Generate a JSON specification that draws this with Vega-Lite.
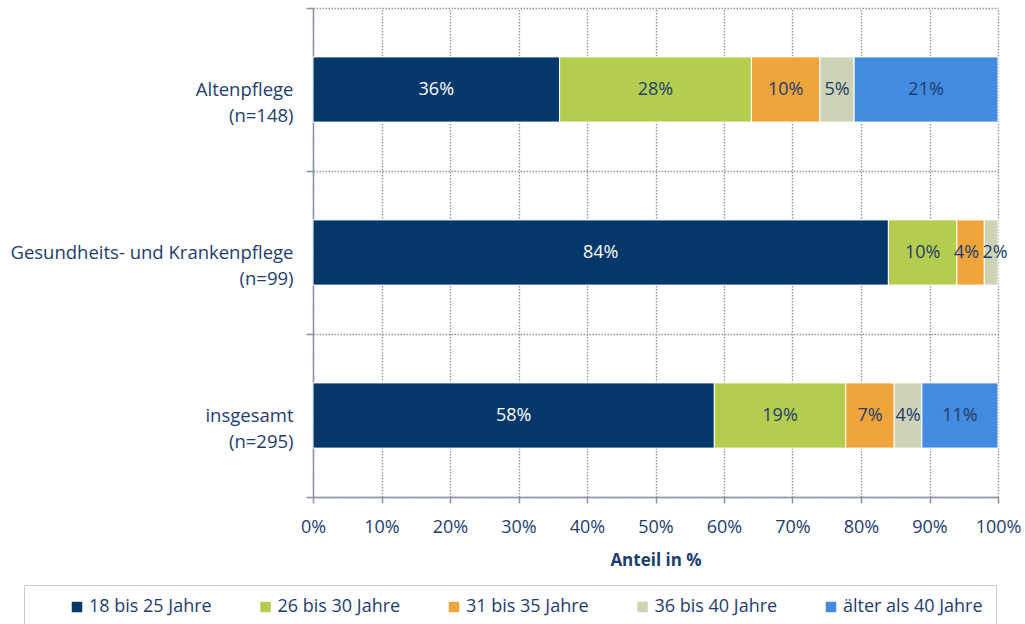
{
  "$schema": "https://vega.github.io/schema/vega-lite/v6.json",
  "width": 685,
  "height": 489,
  "autosize": {"type": "none"},
  "padding": {"left": 313, "top": 8, "right": 27, "bottom": 127},
  "background": "white",
  "config": {
    "font": "Open Sans",
    "view": {"stroke": null}
  },
  "data": {
    "values": [
      {"category": "Altenpflege (n=148)", "group": "18 bis 25 Jahre", "order": 1, "value": 0.36},
      {"category": "Altenpflege (n=148)", "group": "26 bis 30 Jahre", "order": 2, "value": 0.28},
      {"category": "Altenpflege (n=148)", "group": "31 bis 35 Jahre", "order": 3, "value": 0.10},
      {"category": "Altenpflege (n=148)", "group": "36 bis 40 Jahre", "order": 4, "value": 0.05},
      {"category": "Altenpflege (n=148)", "group": "älter als 40 Jahre", "order": 5, "value": 0.21},
      {"category": "Gesundheits- und Krankenpflege (n=99)", "group": "18 bis 25 Jahre", "order": 1, "value": 0.84},
      {"category": "Gesundheits- und Krankenpflege (n=99)", "group": "26 bis 30 Jahre", "order": 2, "value": 0.10},
      {"category": "Gesundheits- und Krankenpflege (n=99)", "group": "31 bis 35 Jahre", "order": 3, "value": 0.04},
      {"category": "Gesundheits- und Krankenpflege (n=99)", "group": "36 bis 40 Jahre", "order": 4, "value": 0.02},
      {"category": "insgesamt (n=295)", "group": "18 bis 25 Jahre", "order": 1, "value": 0.58},
      {"category": "insgesamt (n=295)", "group": "26 bis 30 Jahre", "order": 2, "value": 0.19},
      {"category": "insgesamt (n=295)", "group": "31 bis 35 Jahre", "order": 3, "value": 0.07},
      {"category": "insgesamt (n=295)", "group": "36 bis 40 Jahre", "order": 4, "value": 0.04},
      {"category": "insgesamt (n=295)", "group": "älter als 40 Jahre", "order": 5, "value": 0.11}
    ]
  },
  "transform": [
    {
      "stack": "value",
      "groupby": ["category"],
      "sort": [{"field": "order", "order": "ascending"}],
      "offset": "normalize",
      "as": ["x0", "x1"]
    },
    {"calculate": "(datum.x0 + datum.x1) / 2", "as": "xmid"}
  ],
  "encoding": {
    "y": {
      "field": "category",
      "type": "nominal",
      "sort": ["Altenpflege (n=148)", "Gesundheits- und Krankenpflege (n=99)", "insgesamt (n=295)"],
      "scale": {"paddingInner": 0, "paddingOuter": 0},
      "axis": {
        "title": null,
        "domain": true,
        "domainColor": "#8c93a3",
        "domainWidth": 1.5,
        "ticks": true,
        "tickBand": "extent",
        "tickSize": 7,
        "tickColor": "#8c93a3",
        "tickWidth": 1.5,
        "grid": true,
        "gridColor": "#8c93a3",
        "gridDash": [1.5, 1.5],
        "gridWidth": 1.3,
        "labelFontSize": 18.5,
        "labelColor": "#1f3d6c",
        "labelPadding": 13,
        "labelLineHeight": 26,
        "labelLimit": 400,
        "labelExpr": "[slice(datum.label, 0, indexof(datum.label, ' (')), slice(datum.label, indexof(datum.label, ' (') + 1)]"
      }
    }
  },
  "layer": [
    {
      "mark": {"type": "bar", "stroke": "white", "strokeWidth": 1, "height": {"band": 0.4}},
      "encoding": {
        "x": {
          "field": "x0",
          "type": "quantitative",
          "scale": {"domain": [0, 1], "nice": false},
          "axis": {
            "values": [0, 0.1, 0.2, 0.3, 0.4, 0.5, 0.6, 0.7, 0.8, 0.9, 1],
            "format": ".0%",
            "title": "Anteil in %",
            "titleFontSize": 17,
            "titleFontWeight": "bold",
            "titleColor": "#1f3d6c",
            "titlePadding": 16,
            "domain": true,
            "domainColor": "#8c93a3",
            "domainWidth": 1.5,
            "ticks": true,
            "tickSize": 6,
            "tickColor": "#8c93a3",
            "tickWidth": 1.5,
            "grid": true,
            "gridColor": "#8c93a3",
            "gridDash": [1.5, 1.5],
            "gridWidth": 1.3,
            "labelFontSize": 18,
            "labelColor": "#1f3d6c",
            "labelPadding": 15,
            "labelFlush": false
          }
        },
        "x2": {"field": "x1"},
        "color": {
          "field": "group",
          "type": "nominal",
          "scale": {
            "domain": ["18 bis 25 Jahre", "26 bis 30 Jahre", "31 bis 35 Jahre", "36 bis 40 Jahre", "älter als 40 Jahre"],
            "range": ["#04386b", "#b4cd4f", "#efa43c", "#cdd3b4", "#438be0"]
          },
          "legend": {
            "title": null,
            "orient": "none",
            "direction": "horizontal",
            "legendX": -289,
            "legendY": 577,
            "columns": 5,
            "gridAlign": "none",
            "symbolType": "square",
            "symbolSize": 110,
            "symbolStrokeWidth": 0,
            "symbolOffset": 31,
            "labelFontSize": 18,
            "labelColor": "#1f3d6c",
            "labelOffset": 3,
            "labelLimit": 300,
            "columnPadding": 13.5,
            "padding": 13,
            "strokeColor": "#cccccc",
            "fillColor": "white"
          }
        }
      }
    },
    {
      "transform": [{"filter": "!(datum.category === 'Gesundheits- und Krankenpflege (n=99)' && datum.order >= 3)"}],
      "mark": {"type": "text", "fontSize": 18, "baseline": "middle", "align": "center"},
      "encoding": {
        "x": {"field": "xmid", "type": "quantitative"},
        "text": {"field": "value", "type": "quantitative", "format": ".0%"},
        "fill": {
          "condition": {"test": "datum.group === '18 bis 25 Jahre'", "value": "white"},
          "value": "#1f3d6c"
        }
      }
    },
    {
      "transform": [{"filter": "datum.category === 'Gesundheits- und Krankenpflege (n=99)' && datum.order === 3"}],
      "mark": {"type": "text", "fontSize": 18, "baseline": "middle", "align": "center", "dx": -4, "fill": "#1f3d6c"},
      "encoding": {
        "x": {"field": "xmid", "type": "quantitative"},
        "text": {"field": "value", "type": "quantitative", "format": ".0%"}
      }
    },
    {
      "transform": [{"filter": "datum.category === 'Gesundheits- und Krankenpflege (n=99)' && datum.order === 4"}],
      "mark": {"type": "text", "fontSize": 18, "baseline": "middle", "align": "center", "dx": 4, "fill": "#1f3d6c"},
      "encoding": {
        "x": {"field": "xmid", "type": "quantitative"},
        "text": {"field": "value", "type": "quantitative", "format": ".0%"}
      }
    }
  ]
}
